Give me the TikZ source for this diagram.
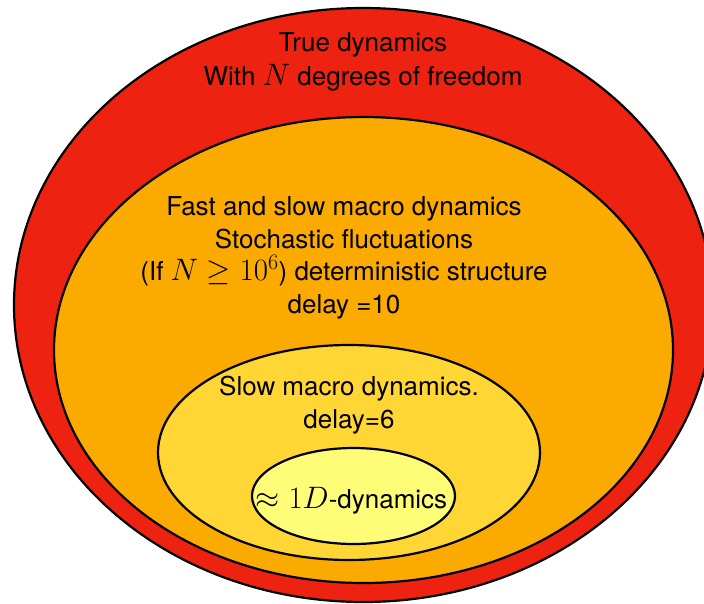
\RequirePackage{fix-cm}
\documentclass[tikz,border=0pt]{standalone}
\usepackage{fontspec}
\setsansfont{TeX Gyre Heros}
\usepackage{amsmath}
\usepackage{amssymb}
\usetikzlibrary{positioning}
\DeclareMathSizes{26}{31}{22}{17}
\definecolor{ink}        {HTML}{000000}
\definecolor{truered}    {HTML}{EE2210}
\definecolor{macroorange}{HTML}{FBAB00}
\definecolor{slowyellow} {HTML}{FFD633}
\definecolor{onedyellow} {HTML}{FFFC78}
\tikzset{
  % --- sets
  dynset/.style  = {draw=ink, line width=2.2pt},
  trueset/.style = {dynset, fill=truered},
  fastset/.style = {dynset, fill=macroorange},
  slowset/.style = {dynset, fill=slowyellow},
  oneset/.style  = {dynset, fill=onedyellow},
  % --- labels
  lbl/.style     = {font=\sffamily\fontsize{26}{32.5}\selectfont, align=center,
                    inner sep=0pt, text=ink},
}

\begin{document}
\begin{tikzpicture}[x=1pt,y=-1pt]
  \useasboundingbox (0,0) rectangle (704,603);
  \clip (0,0) rectangle (704,603);
  % nested sets, outermost first
  \draw[trueset] (363.4,305) ellipse [x radius=349.4, y radius=297];
  \draw[fastset] (363.5,350) ellipse [x radius=309.5, y radius=233];
  \draw[slowset] (349,452.5) ellipse [x radius=191, y radius=107.5];
  \draw[oneset]  (353.5,496) ellipse [x radius=101.5, y radius=48];
  % labels
  \node[lbl] (truelbl) at (363,62) {True dynamics\\[1pt]With $N$ degrees of freedom};
  \node[lbl] (fastlbl) at (344,258) {Fast and slow macro dynamics\\
    Stochastic fluctuations\\
    (If $N \geq 10^6$) deterministic structure\\
    delay =10};
  \node[lbl] (slowlbl) at (349,405) {Slow macro dynamics.\\delay=6};
  \node[lbl] (onelbl)  at (351.5,501) {$\approx 1D$-dynamics};
\end{tikzpicture}
\end{document}
